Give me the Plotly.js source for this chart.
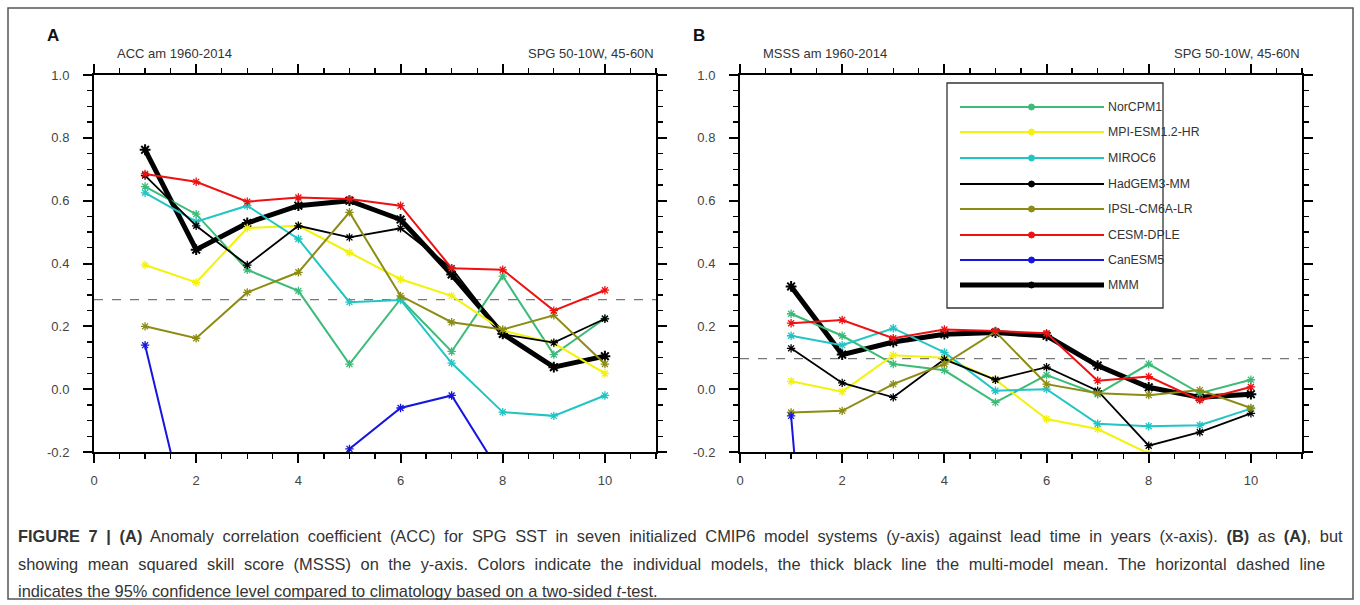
<!DOCTYPE html>
<html>
<head>
<meta charset="utf-8">
<script src="https://cdn.plot.ly/plotly-3.0.1.min.js"></script>
<style>html,body{margin:0;padding:0;background:#fff;}#chart{width:1360px;height:605px;}</style>
</head>
<body>
<div id="chart"></div>
<script>
// ---------- data ----------
const leadYears = [1, 2, 3, 4, 5, 6, 7, 8, 9, 10];
const modelNames = ["NorCPM1", "MPI-ESM1.2-HR", "MIROC6", "HadGEM3-MM", "IPSL-CM6A-LR", "CESM-DPLE", "CanESM5", "MMM"];
const modelColors = ["#3dbb78", "#f2f20a", "#22c4c4", "#000000", "#8c8c14", "#ee1111", "#1515e0", "#000000"];
const modelWidths = [2, 2, 2, 1.8, 2, 2, 2, 5];

// Panel A: ACC
const accNorCPM1 = [0.645, 0.557, 0.38, 0.313, 0.08, 0.287, 0.12, 0.36, 0.11, 0.225];
const accMPI     = [0.395, 0.34, 0.513, 0.52, 0.435, 0.35, 0.297, 0.187, 0.146, 0.05];
const accMIROC6  = [0.625, 0.533, 0.584, 0.478, 0.277, 0.284, 0.083, -0.073, -0.085, -0.02];
const accHadGEM3 = [0.68, 0.52, 0.395, 0.52, 0.483, 0.512, 0.385, 0.175, 0.148, 0.224];
const accIPSL    = [0.2, 0.162, 0.308, 0.372, 0.563, 0.297, 0.213, 0.19, 0.235, 0.08];
const accCESM    = [0.685, 0.66, 0.597, 0.61, 0.605, 0.584, 0.385, 0.38, 0.25, 0.315];
const accCanESM5 = [0.14, -0.54, -0.5, -0.45, -0.19, -0.06, -0.02, -0.28, -0.4, -0.35];
const accMMM     = [0.762, 0.444, 0.529, 0.584, 0.6, 0.54, 0.365, 0.176, 0.07, 0.105];

// Panel B: MSSS
const msssNorCPM1 = [0.24, 0.17, 0.08, 0.06, -0.042, 0.045, -0.016, 0.08, -0.013, 0.03];
const msssMPI     = [0.025, -0.008, 0.108, 0.1, 0.03, -0.095, -0.127, -0.205, -0.3, -0.35];
const msssMIROC6  = [0.17, 0.14, 0.194, 0.117, -0.005, 0.0, -0.11, -0.118, -0.115, -0.062];
const msssHadGEM3 = [0.13, 0.02, -0.026, 0.095, 0.03, 0.07, -0.005, -0.18, -0.137, -0.077];
const msssIPSL    = [-0.074, -0.069, 0.016, 0.08, 0.183, 0.016, -0.013, -0.019, -0.003, -0.06];
const msssCESM    = [0.21, 0.22, 0.162, 0.19, 0.185, 0.178, 0.027, 0.04, -0.035, 0.007];
const msssCanESM5 = [-0.085, -2.0, -2.0, -2.0, -2.0, -2.0, -2.0, -2.0, -2.0, -2.0];
const msssMMM     = [0.327, 0.11, 0.15, 0.175, 0.18, 0.17, 0.075, 0.006, -0.026, -0.016];

const accSeries  = [accNorCPM1, accMPI, accMIROC6, accHadGEM3, accIPSL, accCESM, accCanESM5, accMMM];
const msssSeries = [msssNorCPM1, msssMPI, msssMIROC6, msssHadGEM3, msssIPSL, msssCESM, msssCanESM5, msssMMM];

const thresholds = [0.285, 0.097];   // 95% confidence level, panel A / panel B

const xTickVals = [0, 2, 4, 6, 8, 10];
const xTickText = ["0", "2", "4", "6", "8", "10"];
const yTickVals = [-0.2, 0, 0.2, 0.4, 0.6, 0.8, 1.0];
const yTickText = ["-0.2", "0.0", "0.2", "0.4", "0.6", "0.8", "1.0"];

const panelLetters = ["A", "B"];
const panelLeftTitles = ["ACC am 1960-2014", "MSSS am 1960-2014"];
const panelRightTitles = ["SPG 50-10W, 45-60N", "SPG 50-10W, 45-60N"];

const captionLines = [
  "<b>FIGURE 7 | (A)</b> Anomaly correlation coefficient (ACC) for SPG SST in seven initialized CMIP6 model systems (y-axis) against lead time in years (x-axis). <b>(B)</b> as <b>(A)</b>, but",
  "showing mean squared skill score (MSSS) on the y-axis. Colors indicate the individual models, the thick black line the multi-model mean. The horizontal dashed line",
  "indicates the 95% confidence level compared to climatology based on a two-sided <i>t</i>-test."
];

// ---------- layout helpers ----------
const W = 1360, H = 605;
const px = v => v / W;
const py = v => (H - v) / H;
const FONT = "Liberation Sans, Arial, Helvetica, sans-serif";

// draw order: MMM first (underneath), then models
const order = [7, 0, 1, 2, 3, 4, 5, 6];
const traces = [];
[accSeries, msssSeries].forEach((series, p) => {
  order.forEach(i => {
    traces.push({
      type: "scatter", mode: "lines+markers",
      x: leadYears, y: series[i], name: modelNames[i],
      xaxis: p === 0 ? "x" : "x2", yaxis: p === 0 ? "y" : "y2",
      line: {color: modelColors[i], width: modelWidths[i]},
      marker: {symbol: "asterisk-open", size: i === 7 ? 9 : 7, color: modelColors[i],
               line: {color: modelColors[i], width: i === 7 ? 2 : 1.3}},
      showlegend: false, hoverinfo: "x+y+name"
    });
  });
});

function xAxis(domain, anchor) {
  return {
    domain: domain, anchor: anchor, range: [0, 11], fixedrange: true,
    showline: true, linewidth: 2, linecolor: "#000", mirror: "ticks",
    ticks: "outside", ticklen: 9, tickwidth: 2, tickcolor: "#000",
    tickmode: "array", tickvals: xTickVals, ticktext: xTickText,
    minor: {ticks: "outside", ticklen: 5, tickwidth: 1.3, tickcolor: "#000", tickmode: "linear", tick0: 0, dtick: 0.5, showgrid: false},
    showgrid: false, zeroline: false, ticklabelstandoff: 6,
    tickfont: {family: FONT, size: 13, color: "#444"}
  };
}
function yAxis(anchor) {
  return {
    domain: [py(452), py(75)], anchor: anchor, range: [-0.2, 1.0], fixedrange: true,
    showline: true, linewidth: 2, linecolor: "#000", mirror: "ticks",
    ticks: "outside", ticklen: 9, tickwidth: 2, tickcolor: "#000",
    tickmode: "array", tickvals: yTickVals, ticktext: yTickText,
    minor: {ticks: "outside", ticklen: 5, tickwidth: 1.3, tickcolor: "#000", tickmode: "linear", tick0: 0, dtick: 0.05, showgrid: false},
    showgrid: false, zeroline: false, ticklabelstandoff: 11,
    tickfont: {family: FONT, size: 13, color: "#444"}
  };
}

const shapes = [];
const annotations = [];

// dashed confidence lines
thresholds.forEach((t, p) => {
  shapes.push({type: "line", xref: p === 0 ? "x" : "x2", yref: p === 0 ? "y" : "y2",
    x0: 0, x1: 11, y0: t, y1: t, line: {color: "#777", width: 1.3, dash: "dash"}, layer: "below"});
});

// outer frame
shapes.push({type: "rect", xref: "paper", yref: "paper", x0: px(8), x1: px(1353), y0: py(599), y1: py(8),
  line: {color: "#555", width: 1.5}, fillcolor: "rgba(0,0,0,0)"});

// panel titles
const panelLeft = [94, 740], panelRight = [656, 1302];
[0, 1].forEach(p => {
  annotations.push({xref: "paper", yref: "paper", x: px(panelLeft[p] - 49), y: py(35), xanchor: "left", yanchor: "middle",
    text: "<b>" + panelLetters[p] + "</b>", showarrow: false, font: {family: FONT, size: 17, color: "#111"}});
  annotations.push({xref: "paper", yref: "paper", x: px(panelLeft[p] + 21), y: py(53), xanchor: "left", yanchor: "middle",
    text: panelLeftTitles[p], showarrow: false, font: {family: FONT, size: 13, color: "#333"}});
  annotations.push({xref: "paper", yref: "paper", x: px(panelRight[p]), y: py(53), xanchor: "right", yanchor: "middle",
    text: panelRightTitles[p], showarrow: false, font: {family: FONT, size: 13, color: "#333"}});
});

// legend (panel B)
shapes.push({type: "rect", xref: "paper", yref: "paper", x0: px(947), x1: px(1163), y0: py(308), y1: py(83),
  line: {color: "#333", width: 1.3}, fillcolor: "#fff"});
const legRowY = [107, 132, 158, 184, 209, 235, 260, 285];
modelNames.forEach((n, i) => {
  const yy = py(legRowY[i]);
  shapes.push({type: "line", xref: "paper", yref: "paper", x0: px(960), x1: px(1104), y0: yy, y1: yy,
    line: {color: modelColors[i], width: modelWidths[i]}});
  shapes.push({type: "circle", xref: "paper", yref: "paper", x0: px(1028.5), x1: px(1034.5), y0: py(legRowY[i] + 3), y1: py(legRowY[i] - 3),
    line: {color: modelColors[i], width: 1}, fillcolor: modelColors[i]});
  annotations.push({xref: "paper", yref: "paper", x: px(1106), y: yy, xanchor: "left", yanchor: "middle",
    text: n, showarrow: false, font: {family: FONT, size: 12.3, color: "#333"}});
});

// caption (lines 1-2 justified, like the typeset reference)
const capLeft = 18;
const capY = [536, 564, 591];
const capRightEdge = [1343, 1325, null];
const captionStart = annotations.length;
captionLines.forEach((t, i) => {
  annotations.push({xref: "paper", yref: "paper", x: px(capLeft - 2), y: py(capY[i]), xanchor: "left", yanchor: "middle",
    text: t, showarrow: false, font: {family: FONT, size: 16.4, color: "#333"}});
});

const layout = {
  width: W, height: H, margin: {l: 0, r: 0, t: 0, b: 0},
  paper_bgcolor: "#fff", plot_bgcolor: "#fff", showlegend: false,
  xaxis: xAxis([px(94), px(656)], "y"),
  yaxis: yAxis("x"),
  xaxis2: xAxis([px(740), px(1302)], "y2"),
  yaxis2: yAxis("x2"),
  shapes: shapes, annotations: annotations
};

Plotly.newPlot("chart", traces, layout, {displayModeBar: false, staticPlot: true}).then(gd => {
  const texts = gd.querySelectorAll(".annotation-text");
  const host = gd.getBoundingClientRect();
  capRightEdge.forEach((edge, i) => {
    const el = texts[captionStart + i];
    if (!el) return;
    if (edge) {
      const b0 = el.getBoundingClientRect();
      const nSpaces = (el.textContent.match(/ /g) || []).length;
      const extra = nSpaces ? Math.max(0, ((edge - capLeft) - b0.width) / nSpaces) : 0;
      el.style.wordSpacing = extra.toFixed(2) + "px";
    }
    const b1 = el.getBoundingClientRect();
    const dx = capLeft - (b1.left - host.left);
    el.setAttribute("x", (parseFloat(el.getAttribute("x") || "0") + dx).toFixed(2));
  });
});
</script>
</body>
</html>
